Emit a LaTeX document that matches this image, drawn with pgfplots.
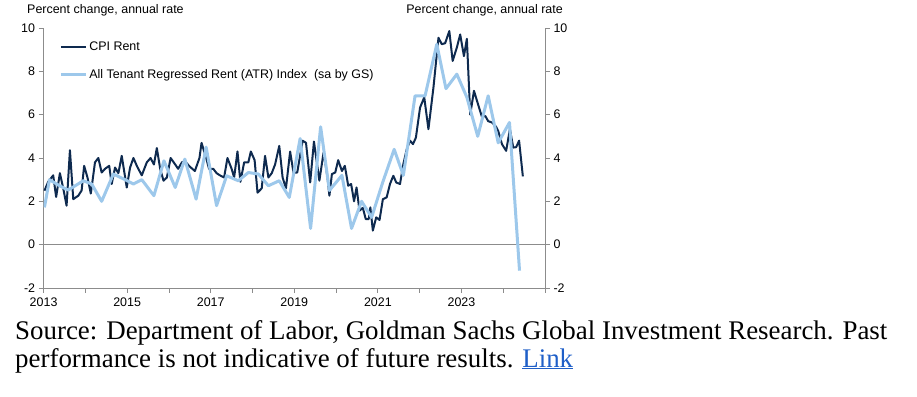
\documentclass[border=0pt]{standalone}
\usepackage{pgfplots}
\pgfplotsset{compat=1.18}
\usepackage{pgfplotstable}
\usepackage{fontspec}
\setmainfont{Liberation Sans}
\newfontfamily\srcfont{Liberation Serif}
\definecolor{cpi}{HTML}{0E2A4F}
\definecolor{atr}{HTML}{9DC8EB}
\definecolor{axgray}{HTML}{8C8C8C}
\definecolor{linkblue}{HTML}{1F5FC8}

\pgfplotstableread{
t v
2013.02 2.49
2013.11 2.9
2013.19 3.1
2013.23 3.2
2013.30 2.2
2013.39 3.3
2013.47 2.6
2013.55 1.8
2013.63 4.36
2013.71 2.1
2013.83 2.26
2013.91 2.5
2013.97 3.64
2014.05 3.1
2014.13 2.36
2014.23 3.8
2014.31 4.0
2014.39 3.33
2014.47 3.5
2014.57 3.64
2014.63 2.8
2014.71 3.56
2014.79 3.3
2014.87 4.1
2014.99 2.64
2015.07 3.56
2015.15 4.0
2015.24 3.6
2015.35 3.2
2015.47 3.8
2015.56 4.0
2015.64 3.7
2015.71 4.46
2015.79 3.5
2015.87 2.95
2015.95 3.1
2016.04 4.0
2016.15 3.7
2016.22 3.5
2016.31 3.8
2016.38 3.85
2016.50 3.6
2016.62 3.4
2016.73 4.0
2016.78 4.7
2016.89 4.0
2016.96 3.5
2017.06 3.5
2017.14 3.3
2017.22 3.2
2017.32 3.1
2017.40 4.0
2017.50 3.5
2017.56 3.1
2017.64 4.3
2017.71 2.9
2017.80 3.8
2017.90 3.8
2017.96 4.3
2018.05 3.9
2018.12 2.4
2018.22 2.6
2018.30 4.1
2018.38 3.1
2018.46 3.3
2018.54 3.7
2018.64 4.56
2018.72 3.1
2018.80 2.6
2018.90 4.3
2018.98 3.33
2019.07 3.33
2019.20 4.8
2019.28 4.7
2019.38 2.87
2019.47 4.76
2019.60 2.95
2019.70 4.25
2019.79 3.18
2019.84 2.26
2019.90 3.26
2019.98 3.33
2020.05 3.9
2020.14 3.4
2020.21 3.64
2020.29 2.72
2020.36 2.8
2020.43 2.0
2020.49 2.64
2020.56 1.57
2020.64 1.7
2020.71 1.18
2020.78 1.18
2020.82 1.72
2020.88 0.65
2020.96 1.26
2021.04 1.14
2021.12 2.1
2021.21 2.18
2021.29 2.8
2021.37 3.18
2021.44 2.87
2021.53 2.8
2021.61 3.72
2021.69 4.4
2021.77 4.8
2021.84 4.64
2021.91 4.94
2022.01 6.33
2022.11 6.8
2022.21 5.33
2022.33 7.25
2022.45 9.55
2022.53 9.25
2022.61 9.3
2022.71 9.86
2022.79 8.48
2022.89 9.1
2022.97 9.7
2023.06 8.7
2023.13 9.5
2023.21 6.0
2023.30 7.1
2023.41 6.4
2023.49 5.9
2023.57 5.94
2023.64 5.7
2023.73 5.64
2023.83 5.44
2023.88 5.25
2023.97 4.64
2024.07 4.33
2024.16 5.33
2024.24 4.48
2024.31 4.5
2024.38 4.8
2024.47 3.15
}\cpidata

\pgfplotstableread{
t v
2013.02 1.72
2013.14 3.0
2013.38 2.72
2013.59 2.52
2013.95 2.95
2014.15 2.8
2014.39 2.0
2014.67 3.26
2014.95 3.0
2015.15 2.8
2015.35 3.0
2015.64 2.26
2015.88 3.87
2016.15 2.64
2016.38 3.95
2016.65 2.1
2016.89 4.5
2017.14 1.8
2017.38 3.18
2017.66 2.95
2017.90 3.33
2018.14 3.26
2018.38 2.72
2018.64 2.95
2018.88 2.18
2019.14 4.9
2019.39 0.75
2019.63 5.44
2019.84 2.5
2020.14 3.2
2020.37 0.75
2020.61 2.0
2020.85 1.26
2021.12 2.9
2021.39 4.4
2021.61 3.2
2021.89 6.87
2022.13 6.87
2022.41 9.25
2022.63 7.2
2022.89 7.87
2023.13 6.8
2023.39 5.0
2023.64 6.87
2023.88 4.7
2024.15 5.64
2024.39 -1.2
}\atrdata

\begin{document}
\begin{tikzpicture}
\useasboundingbox (0bp,0bp) rectangle (917bp,397bp);
\begin{axis}[
  at={(43.6bp,109bp)}, anchor=south west,
  width=501.4bp, height=260bp, scale only axis,
  xmin=2013, xmax=2025, ymin=-2, ymax=10,
  axis x line*=bottom, axis y line*=left,
  axis line style={axgray, line width=0.8bp},
  xtick={2013,2014,2015,2016,2017,2018,2019,2020,2021,2022,2023,2024,2025},
  xticklabels={2013,,2015,,2017,,2019,,2021,,2023,,},
  ytick={-2,0,2,4,6,8,10},
  yticklabels={-2,0,2,4,6,8,10},
  tick align=outside, major tick length=5bp,
  tick style={axgray, line width=0.8bp},
  ticklabel style={font=\fontsize{12.5}{14}\selectfont, text=black},
  xticklabel style={yshift=-1bp},
  legend style={at={(rel axis cs:0.031,0.955)}, anchor=north west, draw=none, fill=none,
    font=\fontsize{12.5}{14}\selectfont, row sep=13bp, column sep=0bp, inner sep=0pt,
    nodes={inner sep=2bp}, cells={anchor=west}},
  legend image code/.code={\draw[#1] (0bp,0bp) -- (25bp,0bp);},
  legend cell align=left,
]
\addplot[axgray, line width=0.8bp, forget plot] coordinates {(2013,0) (2025,0)};
\addplot[cpi, line width=2bp, line join=round] table[x=t, y=v] {\cpidata};
\addlegendentry{CPI Rent}
\addplot[atr, line width=3bp, line join=round] table[x=t, y=v] {\atrdata};
\addlegendentry{All Tenant Regressed Rent (ATR) Index\ \ (sa by GS)}
\end{axis}
\begin{axis}[
  at={(43.6bp,109bp)}, anchor=south west,
  width=501.4bp, height=260bp, scale only axis,
  xmin=2013, xmax=2025, ymin=-2, ymax=10,
  axis x line=none, axis y line*=right,
  axis line style={axgray, line width=0.8bp},
  ytick={-2,0,2,4,6,8,10},
  yticklabels={-2,0,2,4,6,8,10},
  tick align=outside, major tick length=5bp,
  tick style={axgray, line width=0.8bp},
  ticklabel style={font=\fontsize{12.5}{14}\selectfont, text=black},
]
\end{axis}
\node[anchor=base west, inner sep=0pt, font=\fontsize{12.5}{14}\selectfont] at (27bp,383bp) {Percent change, annual rate};
\node[anchor=base east, inner sep=0pt, font=\fontsize{12.5}{14}\selectfont] at (563bp,383bp) {Percent change, annual rate};
\node[anchor=base west, inner sep=0pt, font=\srcfont\fontsize{27}{30}\selectfont] at (15bp,57.7bp) {Source: Department of Labor, Goldman Sachs Global Investment Research. Past};
\node[anchor=base west, inner sep=0pt, font=\srcfont\fontsize{27}{30}\selectfont] at (15bp,29.7bp) {performance is not indicative of future results. \textcolor{linkblue}{\underline{Link}}};
\end{tikzpicture}
\end{document}
